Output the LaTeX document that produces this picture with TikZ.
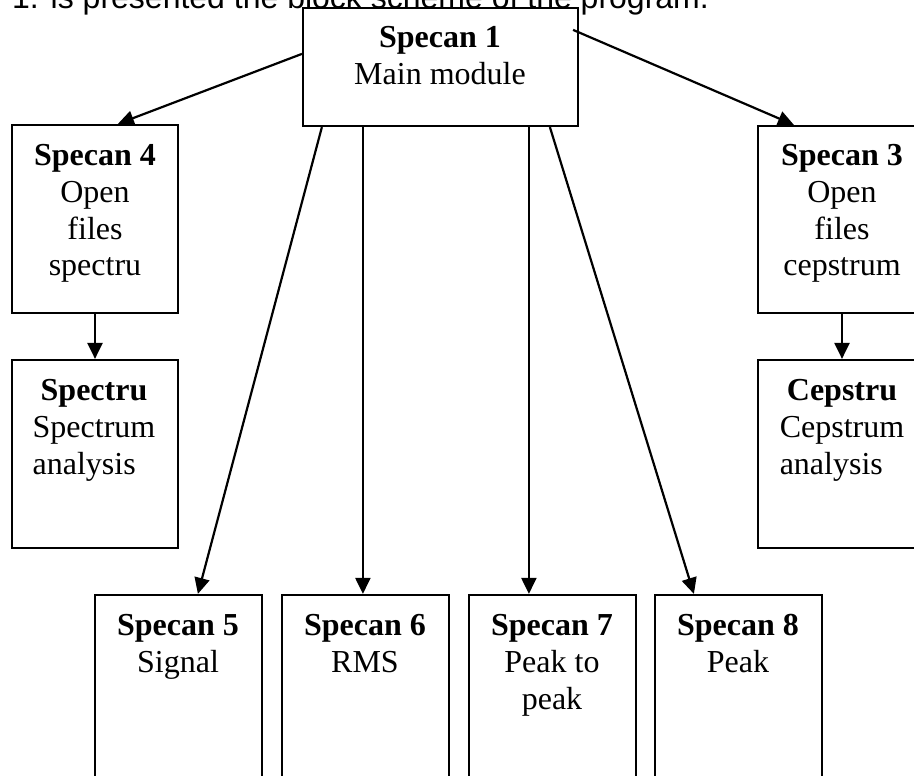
\documentclass[tikz,border=0pt]{standalone}
\usepackage{fontspec}
\setmainfont{Liberation Serif}
\newfontfamily\arialfont{Liberation Sans}
\usetikzlibrary{arrows.meta}
\begin{document}
\begin{tikzpicture}[x=1pt,y=-1pt,
  box/.style={draw, line width=2.2pt, fill=white, inner sep=0pt},
  txt/.style={inner sep=0pt, anchor=base, font=\fontsize{32}{37}\selectfont},
  arr/.style={line width=2.2pt, -{Triangle[length=16pt,width=15pt]}}]
\useasboundingbox (0,0) rectangle (914,776);
\clip (0,0) rectangle (914,776);
% boxes
\node[box, minimum width=275pt, minimum height=118pt] (s1) at (440.5,67) {};
\node[box, minimum width=166pt, minimum height=188pt] (s4) at (95,219) {};
\node[box, minimum width=166pt, minimum height=188pt] (spec) at (95,454) {};
\node[box, minimum width=168pt, minimum height=187pt] (s3) at (842,219.5) {};
\node[box, minimum width=168pt, minimum height=188pt] (ceps) at (842,454) {};
\node[box, minimum width=167pt, minimum height=250pt] (s5) at (178.5,720) {};
\node[box, minimum width=167pt, minimum height=250pt] (s6) at (365.5,720) {};
\node[box, minimum width=167pt, minimum height=250pt] (s7) at (552.5,720) {};
\node[box, minimum width=167pt, minimum height=250pt] (s8) at (738.5,720) {};
% texts
\node[txt] (s1t) at (440,48) {\begin{tabular}[t]{@{}c@{}}\textbf{Specan 1}\\Main module\end{tabular}};
\node[txt] (s4t) at (95,165) {\begin{tabular}[t]{@{}c@{}}\textbf{Specan 4}\\Open\\files\\spectru\end{tabular}};
\node[txt] (spect) at (94,400) {\begin{tabular}[t]{@{}l@{}}\multicolumn{1}{@{}c@{}}{\textbf{Spectru}}\\Spectrum\\analysis\end{tabular}};
\node[txt] (s3t) at (842,165) {\begin{tabular}[t]{@{}c@{}}\textbf{Specan 3}\\Open\\files\\cepstrum\end{tabular}};
\node[txt] (cepst) at (842,400) {\begin{tabular}[t]{@{}l@{}}\multicolumn{1}{@{}c@{}}{\textbf{Cepstru}}\\Cepstrum\\analysis\end{tabular}};
\node[txt] (s5t) at (178,635) {\begin{tabular}[t]{@{}c@{}}\textbf{Specan 5}\\Signal\end{tabular}};
\node[txt] (s6t) at (365,635) {\begin{tabular}[t]{@{}c@{}}\textbf{Specan 6}\\RMS\end{tabular}};
\node[txt] (s7t) at (552,635) {\begin{tabular}[t]{@{}c@{}}\textbf{Specan 7}\\Peak to\\peak\end{tabular}};
\node[txt] (s8t) at (738,635) {\begin{tabular}[t]{@{}c@{}}\textbf{Specan 8}\\Peak\end{tabular}};
% connectors
\draw[arr] ([yshift=-47pt]s1.north west) -- ([xshift=107pt]s4.north west);
\draw[arr] ([xshift=-6pt,yshift=-23pt]s1.north east) -- ([xshift=37pt]s3.north west);
\draw[arr] (s4.south) -- (spec.north);
\draw[arr] (s3.south) -- (ceps.north);
\draw[arr] ([xshift=20pt]s1.south west) -- ([xshift=104pt]s5.north west);
\draw[arr] ([xshift=61pt]s1.south west) -- ([xshift=82pt]s6.north west);
\draw[arr] ([xshift=227pt]s1.south west) -- ([xshift=61pt]s7.north west);
\draw[arr] ([xshift=248pt]s1.south west) -- ([xshift=40pt]s8.north west);
% caption line (cut at top), drawn over the top box edge
\node[inner sep=0pt, anchor=base west, font=\arialfont\fontsize{32}{37}\selectfont] (cap) at (12,9) {1. is presented the block scheme of the program.};
\end{tikzpicture}
\end{document}
